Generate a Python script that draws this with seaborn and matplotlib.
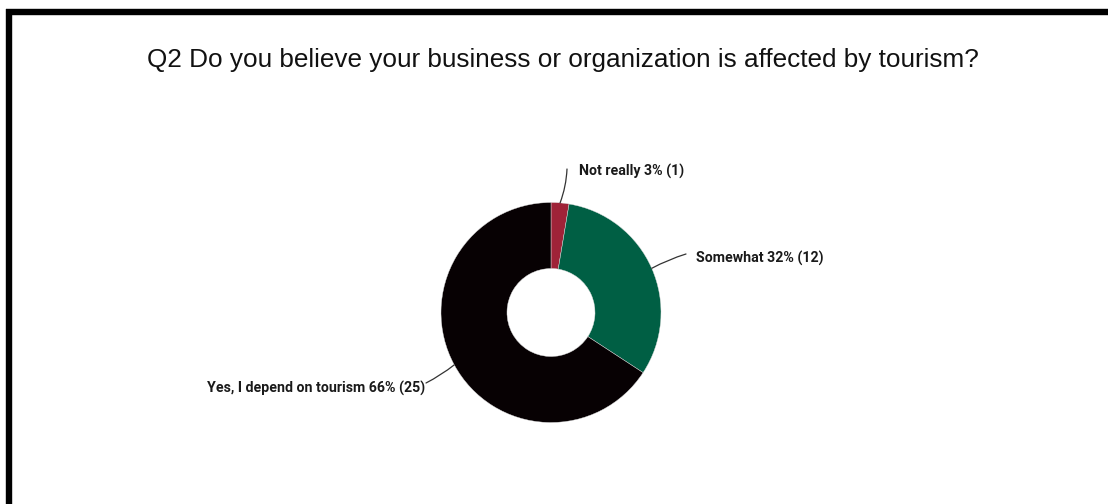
import numpy as np
import matplotlib
matplotlib.use("Agg")
import matplotlib.pyplot as plt
from matplotlib.lines import Line2D
import seaborn as sns

# Survey responses (Q2)
answers = ["Not really", "Somewhat", "Yes, I depend on tourism"]
counts = [1, 12, 25]
percent_labels = ["3%", "32%", "66%"]
colors = ["#9f2338", "#005f44", "#070103"]

title = "Q2 Do you believe your business or organization is affected by tourism?"

sns.set_theme(style="white")
plt.rcParams["font.family"] = ["Liberation Sans", "DejaVu Sans"]

W, H = 1108, 504
fig = plt.figure(figsize=(W / 100, H / 100), dpi=100)
fig.patch.set_facecolor("white")

# full-figure axes measured in pixels (y grows upward)
ax = fig.add_axes([0, 0, 1, 1])

cx, cy, r = 551, H - 312.5, 110
palette = sns.color_palette(colors)
wedges, _ = ax.pie(
    counts,
    colors=palette,
    startangle=90,
    counterclock=False,
    radius=r,
    center=(cx, cy),
    wedgeprops=dict(width=r * 0.6, linewidth=0.3, edgecolor="#dddddd"),
    frame=True,
)
ax.set_xlim(0, W)
ax.set_ylim(0, H)
ax.set_axis_off()
ax.set_aspect("equal")

# label placement (text anchor in pixel space, horizontal alignment, curve)
text_pos = [(579, 171, "left", -0.08), (696, 258, "left", 0.05), (425, 388, "right", 0.05)]
line_end = [(567, 169), (686, 254), (426, 383)]

for w, ans, cnt, pct, (tx, ty, ha, rad), (lx, ly) in zip(
    wedges, answers, counts, percent_labels, text_pos, line_end
):
    ang = np.deg2rad((w.theta1 + w.theta2) / 2)
    px = cx + r * np.cos(ang)
    py = cy + r * np.sin(ang)
    ax.annotate(
        "",
        xy=(px, py),
        xytext=(lx, H - ly),
        arrowprops=dict(arrowstyle="-", color="#333333", lw=0.9,
                        connectionstyle=f"arc3,rad={rad}",
                        shrinkA=0, shrinkB=0),
    )
    ax.text(tx, H - ty, f"{ans} {pct} ({cnt})", ha=ha, va="center",
            fontsize=10.2, fontweight="bold", color="#1a1a1a",
            family=["Roboto", "DejaVu Sans"])

fig.text(562.5 / W, 1 - 60 / H, title, ha="center", va="center",
         fontsize=18.8, color="#111111")

# black frame along the top and left edges, meeting at the corner
fig.add_artist(Line2D([6 / W, 1], [1 - 11.5 / H] * 2, transform=fig.transFigure,
                      color="black", lw=4.6, solid_capstyle="butt"))
fig.add_artist(Line2D([8.5 / W] * 2, [0, 1 - 9 / H], transform=fig.transFigure,
                      color="black", lw=4.6, solid_capstyle="butt"))

fig.savefig("out.png", dpi=100, facecolor="white")
